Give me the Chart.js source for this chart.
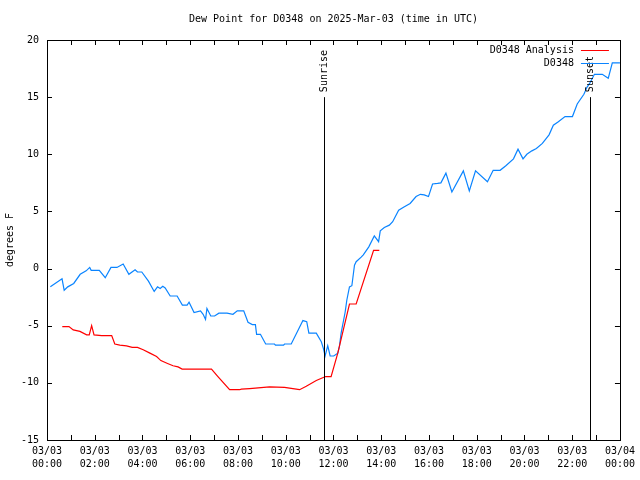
<!DOCTYPE html>
<html>
<head>
<meta charset="utf-8">
<script src="https://cdn.jsdelivr.net/npm/chart.js@4"></script>
<style>
  html, body { margin: 0; padding: 0; background: #fff; }
  #wrap { width: 640px; height: 480px; }
</style>
</head>
<body>
<div id="wrap"><canvas id="dewChart" width="640" height="480"></canvas></div>
<script>
// hours after 03/03 00:00 UTC
const obsHours = [0.14, 0.63, 0.72, 0.87, 1.12, 1.39, 1.64, 1.79, 1.85, 2.19, 2.44, 2.68, 2.93, 3.19, 3.43, 3.69, 3.79, 3.97,
    4.25, 4.49, 4.63, 4.74, 4.85, 4.95, 5.16, 5.45, 5.67, 5.87, 5.95, 6.16, 6.43, 6.54, 6.64, 6.70, 6.86, 7.02, 7.20, 7.54,
    7.79, 7.97, 8.24, 8.42, 8.60, 8.73, 8.78, 8.94, 9.16, 9.53, 9.57, 9.91, 9.95, 10.23, 10.72, 10.88, 10.97, 11.28, 11.49,
    11.58, 11.65, 11.76, 11.86, 12.01, 12.18, 12.25, 12.32, 12.49, 12.56, 12.67, 12.77, 12.88, 12.95, 13.16, 13.25, 13.48,
    13.71, 13.89, 13.96, 14.13, 14.34, 14.48, 14.73, 14.97, 15.21, 15.46, 15.64, 15.80, 15.98, 16.15, 16.36, 16.50, 16.71,
    16.96, 17.44, 17.69, 17.95, 18.45, 18.69, 18.98, 19.22, 19.54, 19.73, 19.94, 20.10, 20.31, 20.50, 20.75, 21.03, 21.21,
    21.42, 21.70, 22.01, 22.21, 22.49, 22.63, 22.73, 22.93, 23.26, 23.51, 23.68, 24.0];
const obsValues = [-1.6, -0.9, -1.9, -1.6, -1.3, -0.5, -0.2, 0.1, -0.15, -0.15, -0.8, 0.1, 0.1, 0.4, -0.5, -0.1, -0.3, -0.3,
    -1.1, -2.0, -1.6, -1.75, -1.55, -1.7, -2.4, -2.4, -3.2, -3.2, -2.95, -3.85, -3.7, -4.0, -4.45, -3.5, -4.15, -4.15, -3.9, -3.9,
    -4.0, -3.7, -3.7, -4.7, -4.9, -4.9, -5.75, -5.75, -6.6, -6.6, -6.7, -6.7, -6.6, -6.6, -4.55, -4.65, -5.65, -5.65, -6.4,
    -7.0, -7.65, -6.75, -7.65, -7.65, -7.4, -6.8, -5.65, -3.8, -2.75, -1.6, -1.5, 0.3, 0.6, 1.0, 1.2, 1.9,
    2.85, 2.35, 3.3, 3.6, 3.8, 4.1, 5.1, 5.4, 5.7, 6.3, 6.5, 6.45, 6.3, 7.4, 7.45, 7.5, 8.35,
    6.7, 8.55, 6.8, 8.55, 7.6, 8.6, 8.6, 9.0, 9.6, 10.45, 9.6, 10.0, 10.3, 10.5, 10.95, 11.7, 12.55,
    12.85, 13.3, 13.3, 14.4, 15.25, 15.9, 16.2, 17.0, 17.0, 16.65, 18.0, 18.0];

const analysisHours = [0.64, 0.92, 1.10, 1.38, 1.66, 1.77, 1.87, 1.97, 2.29, 2.71, 2.84, 3.05, 3.33, 3.57, 3.79, 4.03,
    4.31, 4.59, 4.77, 5.05, 5.28, 5.49, 5.66, 6.89, 7.16, 7.65, 8.07, 8.14, 8.49, 9.32, 9.95, 10.30, 10.58, 10.86, 11.28,
    11.67, 11.90, 12.18, 12.67, 12.95, 13.68, 13.92];
const analysisValues = [-5.08, -5.08, -5.37, -5.5, -5.8, -5.8, -5.0, -5.8, -5.87, -5.87, -6.6, -6.7, -6.77, -6.9, -6.9, -7.1,
    -7.4, -7.7, -8.05, -8.3, -8.5, -8.6, -8.8, -8.8, -9.45, -10.6, -10.6, -10.55, -10.5, -10.35, -10.4, -10.5, -10.6, -10.3, -9.8,
    -9.45, -9.45, -7.4, -3.1, -3.1, 1.6, 1.6];

const sunriseHour = 11.62;
const sunsetHour = 22.74;
const yTicks = [-15, -10, -5, 0, 5, 10, 15, 20];
const chartTitle = 'Dew Point for D0348 on 2025-Mar-03 (time in UTC)';

const font = 'DejaVu Sans Mono';

const gnuplotFrame = {
    id: 'gnuplotFrame',
    afterDatasetsDraw(chart) {
        const ctx = chart.ctx;
        const a = chart.chartArea;
        const xs = chart.scales.x;
        const ys = chart.scales.y;
        ctx.save();
        ctx.strokeStyle = '#000';
        ctx.lineWidth = 1;
        ctx.font = '10px "' + font + '"';
        ctx.fillStyle = '#000';

        // title, centred over the plot box
        ctx.textAlign = 'center';
        ctx.textBaseline = 'middle';
        ctx.fillText(chartTitle, (a.left + a.right) / 2, 19);

        // frame
        ctx.strokeRect(Math.round(a.left) + 0.5, Math.round(a.top) + 0.5,
            Math.round(a.right - a.left), Math.round(a.bottom - a.top));

        // inward ticks
        ctx.beginPath();
        for (let h = 0; h <= 24; h++) {
            const px = Math.round(xs.getPixelForValue(h)) + 0.5;
            ctx.moveTo(px, a.bottom); ctx.lineTo(px, a.bottom - 5);
            ctx.moveTo(px, a.top); ctx.lineTo(px, a.top + 5);
        }
        yTicks.forEach(v => {
            const py = Math.round(ys.getPixelForValue(v)) + 0.5;
            ctx.moveTo(a.left, py); ctx.lineTo(a.left + 5, py);
            ctx.moveTo(a.right, py); ctx.lineTo(a.right - 5, py);
        });
        ctx.stroke();

        // sunrise / sunset markers
        [[sunriseHour, 'Sunrise'], [sunsetHour, 'Sunset']].forEach(([h, txt]) => {
            const px = Math.round(xs.getPixelForValue(h)) + 0.5;
            const top = ys.getPixelForValue(15);
            ctx.beginPath();
            ctx.moveTo(px, top);
            ctx.lineTo(px, ys.getPixelForValue(-15));
            ctx.stroke();
            ctx.save();
            ctx.translate(px, top - 5);
            ctx.rotate(-Math.PI / 2);
            ctx.textAlign = 'left';
            ctx.textBaseline = 'middle';
            ctx.fillText(txt, 0, 0);
            ctx.restore();
        });

        // key
        const keyX = a.right - 46;
        ctx.textAlign = 'right';
        ctx.textBaseline = 'middle';
        chart.data.datasets.forEach((ds, i) => {
            const py = a.top + 10 + i * 13;
            ctx.fillStyle = '#000';
            ctx.fillText(ds.label, keyX, py);
            ctx.strokeStyle = ds.borderColor;
            ctx.beginPath();
            ctx.moveTo(keyX + 7, py + 0.5);
            ctx.lineTo(keyX + 35, py + 0.5);
            ctx.stroke();
        });
        ctx.restore();
    }
};

new Chart(document.getElementById('dewChart').getContext('2d'), {
    type: 'line',
    data: {
        datasets: [{
            label: 'D0348 Analysis',
            data: analysisHours.map((h, i) => ({ x: h, y: analysisValues[i] })),
            borderColor: '#ff0000',
            borderWidth: 1.2,
            pointRadius: 0,
            tension: 0
        }, {
            label: 'D0348',
            data: obsHours.map((h, i) => ({ x: h, y: obsValues[i] })),
            borderColor: '#0a84ff',
            borderWidth: 1.2,
            pointRadius: 0,
            tension: 0
        }]
    },
    options: {
        responsive: false,
        animation: false,
        layout: { padding: { left: 0, right: 19, top: 40, bottom: 0 } },
        plugins: {
            legend: { display: false },
            tooltip: { enabled: false },
            title: { display: false }
        },
        scales: {
            x: {
                type: 'linear',
                min: 0,
                max: 24,
                grid: { display: false, drawTicks: false },
                border: { display: false },
                afterFit: s => { s.height = 40; },
                ticks: {
                    stepSize: 2,
                    padding: 5,
                    maxRotation: 0,
                    autoSkip: false,
                    color: '#000',
                    font: { family: font, size: 10, lineHeight: 1.3 },
                    callback: v => v === 24 ? ['03/04', '00:00'] : ['03/03', String(v).padStart(2, '0') + ':00']
                }
            },
            y: {
                min: -15,
                max: 20,
                grid: { display: false, drawTicks: false },
                border: { display: false },
                afterFit: s => { s.width = 47; },
                title: {
                    display: true,
                    text: 'degrees F',
                    color: '#000',
                    font: { family: font, size: 10 },
                    padding: { top: 4, bottom: 0 }
                },
                ticks: {
                    stepSize: 5,
                    padding: 8,
                    color: '#000',
                    font: { family: font, size: 10 }
                }
            }
        }
    },
    plugins: [gnuplotFrame]
});
</script>
</body>
</html>
